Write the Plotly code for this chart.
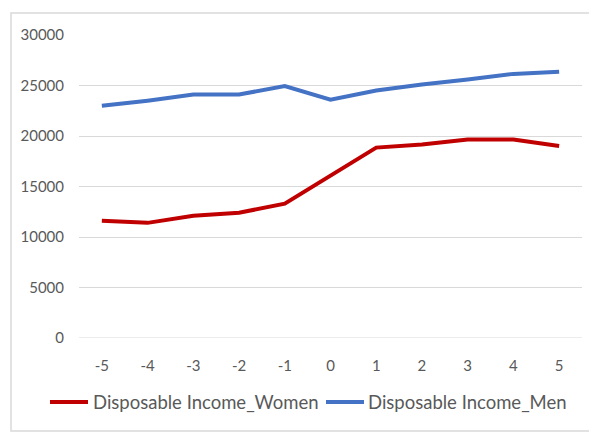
import plotly.graph_objects as go

# Years relative to the event
periods = [-5, -4, -3, -2, -1, 0, 1, 2, 3, 4, 5]

# Disposable income by sex
income_women = [11600, 11400, 12100, 12400, 13300, 16100, 18850, 19150, 19650, 19650, 19000]
income_men = [23000, 23500, 24100, 24100, 24950, 23600, 24500, 25100, 25600, 26150, 26350]

women_name = "Disposable Income_Women"
men_name = "Disposable Income_Men"
women_color = "#C00000"
men_color = "#4472C4"

y_ticks = [0, 5000, 10000, 15000, 20000, 25000, 30000]

W, H = 589, 433
ML, MR, MT, MB = 79, 7, 35, 95
plot_w = W - ML - MR
plot_h = H - MT - MB

fig = go.Figure()
fig.add_trace(go.Scatter(
    x=[str(p) for p in periods], y=income_women, name=women_name,
    mode="lines", line=dict(color=women_color, width=4),
))
fig.add_trace(go.Scatter(
    x=[str(p) for p in periods], y=income_men, name=men_name,
    mode="lines", line=dict(color=men_color, width=4),
))

font_family = "Lato, 'Open Sans', sans-serif"
tick_font = dict(family=font_family, size=15, color="#595959")


def px_x(px):
    """Pixel column -> paper x fraction."""
    return (px - ML) / plot_w


def px_y(px):
    """Pixel row -> paper y fraction."""
    return (H - MB - px) / plot_h


# Legend below the plot: a line sample followed by the series name
legend_row = 402
legend_items = [(women_name, women_color, 50, 88, 91), (men_name, men_color, 326, 364, 366)]
shapes = [
    # zero line drawn like the other gridlines
    dict(type="line", xref="paper", yref="y", x0=0, x1=1, y0=0, y1=0,
         line=dict(color="#D9D9D9", width=1), layer="below"),
    # chart area border
    dict(type="rect", xref="paper", yref="paper",
         x0=px_x(11), x1=px_x(W + 5), y0=px_y(431), y1=px_y(13),
         line=dict(color="#D9D9D9", width=1.5)),
]
annotations = []
for name, color, lx0, lx1, tx in legend_items:
    shapes.append(dict(type="line", xref="paper", yref="paper",
                       x0=px_x(lx0), x1=px_x(lx1), y0=px_y(legend_row), y1=px_y(legend_row),
                       line=dict(color=color, width=4)))
    annotations.append(dict(text=name, xref="paper", yref="paper",
                            x=px_x(tx), y=px_y(legend_row), xanchor="left", yanchor="middle",
                            showarrow=False,
                            font=dict(family=font_family, size=18.5, color="#595959")))

fig.update_layout(
    width=W, height=H,
    margin=dict(l=ML, r=MR, t=MT, b=MB, autoexpand=False),
    paper_bgcolor="white", plot_bgcolor="white",
    showlegend=False,
    xaxis=dict(
        type="category", showgrid=False, zeroline=False, showline=False,
        ticks="", tickfont=tick_font, range=[-0.5, 10.5],
        ticklabelstandoff=17, automargin=False,
    ),
    yaxis=dict(
        range=[0, 30000], tickvals=y_ticks, ticktext=[str(v) for v in y_ticks],
        showgrid=True, gridcolor="#D9D9D9", gridwidth=1,
        zeroline=False, showline=False, ticks="", ticklen=0,
        tickfont=tick_font, ticklabelstandoff=14, automargin=False,
    ),
    shapes=shapes,
    annotations=annotations,
)

fig.write_html("out.html")
